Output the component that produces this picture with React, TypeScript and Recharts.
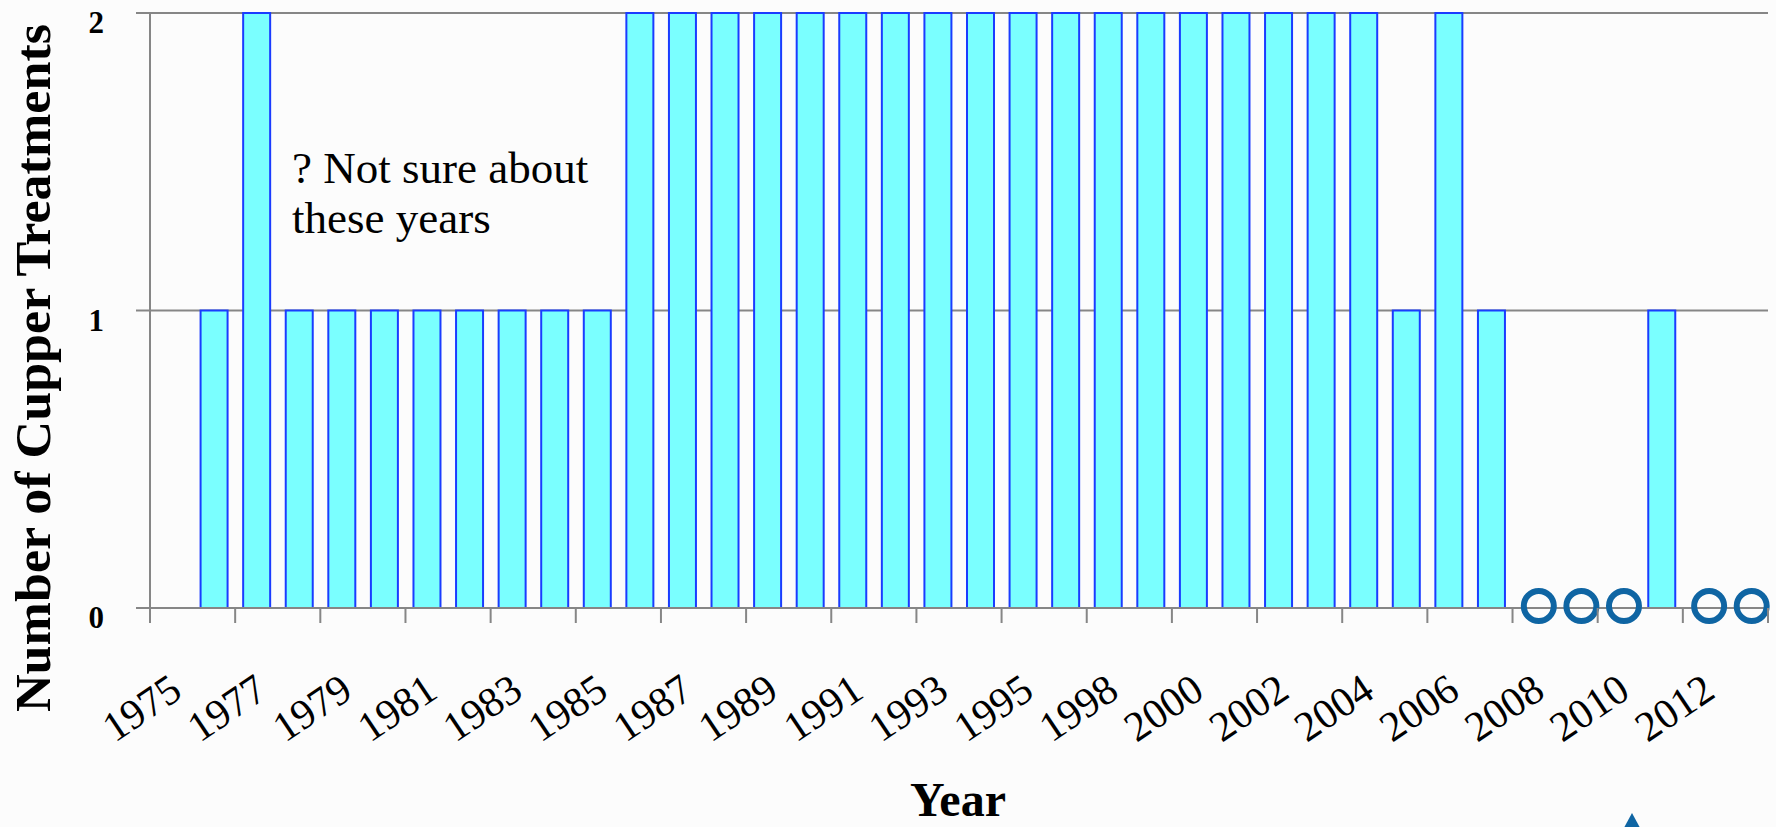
import React from 'react';
import { ComposedChart, Bar, Line, XAxis, YAxis, CartesianGrid } from 'recharts';

// ---- data ----
const years = [
  '1975', '1976', '1977', '1978', '1979', '1980', '1981', '1982', '1983', '1984',
  '1985', '1986', '1987', '1988', '1989', '1990', '1991', '1992', '1993', '1994',
  '1995', '1997', '1998', '1999', '2000', '2001', '2002', '2003', '2004', '2005',
  '2006', '2007', '2008', '2009', '2010', '2011', '2012', '2013',
];
const treatments: (number | null)[] = [
  null, 1, 2, 1, 1, 1, 1, 1, 1, 1,
  1, 2, 2, 2, 2, 2, 2, 2, 2, 2,
  2, 2, 2, 2, 2, 2, 2, 2, 2, 1,
  2, 1, null, null, null, 1, null, null,
];
const zeroYears: (number | null)[] = [
  null, null, null, null, null, null, null, null, null, null,
  null, null, null, null, null, null, null, null, null, null,
  null, null, null, null, null, null, null, null, null, null,
  null, null, 0, 0, 0, null, 0, 0,
];
const yTicks = [0, 1, 2];
const yTitle = 'Number of Cupper Treatments';
const xTitle = 'Year';
const noteLines = ['? Not sure about', 'these years'];

const data = years.map((y, i) => ({ year: y, treatments: treatments[i], zero: zeroYears[i] }));

// ---- layout ----
const W = 1776;
const H = 827;
const PLOT_LEFT = 150;
const PLOT_RIGHT = 1768;
const PLOT_TOP = 13;
const PLOT_BOTTOM = 608;
const BAND = (PLOT_RIGHT - PLOT_LEFT) / years.length;
const FONT = '"Liberation Serif", "DejaVu Serif", serif';
const GRID = '#868686';

const XTick = (props: any) => {
  const { x, index, payload } = props;
  const half = BAND / 2;
  const items: React.ReactNode[] = [];
  if (index % 2 === 0) {
    items.push(
      <line key="t" x1={x - half} x2={x - half} y1={PLOT_BOTTOM} y2={PLOT_BOTTOM + 15} stroke={GRID} strokeWidth={2} />
    );
    const ax = x + 13;
    const ay = 696;
    items.push(
      <text
        key="l"
        x={ax}
        y={ay}
        textAnchor="end"
        transform={`rotate(-34, ${ax}, ${ay})`}
        fontFamily={FONT}
        fontSize={42}
        fill="#000"
      >
        {payload.value}
      </text>
    );
  }
  if (index === years.length - 1) {
    items.push(
      <line key="e" x1={x + half} x2={x + half} y1={PLOT_BOTTOM} y2={PLOT_BOTTOM + 15} stroke={GRID} strokeWidth={2} />
    );
  }
  return <g>{items}</g>;
};

const YTick = (props: any) => {
  const { y, payload } = props;
  return (
    <text x={104} y={y + 20} textAnchor="end" fontFamily={FONT} fontWeight="bold" fontSize={31} fill="#000">
      {payload.value}
    </text>
  );
};

const ZeroDot = (props: any) => {
  const { cx, cy, payload, index } = props;
  if (cy == null || payload == null || payload.zero == null) return <g key={`z${index}`} />;
  return (
    <circle key={`z${index}`} cx={cx + 5} cy={cy - 2} r={15} fill="none" stroke="#0f65a3" strokeWidth={6} />
  );
};

export default function App() {
  return (
    <div style={{ position: 'absolute', left: 0, top: 0, width: W, height: H, background: '#fcfcfc', overflow: 'hidden' }}>
      <ComposedChart
        width={W}
        height={H}
        data={data}
        margin={{ top: PLOT_TOP, right: W - PLOT_RIGHT, bottom: 0, left: 0 }}
        barCategoryGap={0}
      >
        <CartesianGrid vertical={false} stroke={GRID} strokeWidth={2} />
        <XAxis
          dataKey="year"
          interval={0}
          height={H - PLOT_BOTTOM}
          tickLine={false}
          axisLine={{ stroke: GRID, strokeWidth: 2 }}
          tick={<XTick />}
        />
        <YAxis
          width={PLOT_LEFT}
          domain={[0, 2]}
          ticks={yTicks}
          interval={0}
          tickSize={14}
          tickLine={{ stroke: GRID, strokeWidth: 2 }}
          axisLine={{ stroke: GRID, strokeWidth: 2 }}
          tick={<YTick />}
        />
        <Bar
          dataKey="treatments"
          barSize={27}
          fill="#7affff"
          stroke="#1a3cff"
          strokeWidth={2}
          isAnimationActive={false}
        />
        <Line
          dataKey="zero"
          stroke="none"
          dot={ZeroDot}
          activeDot={false}
          isAnimationActive={false}
          legendType="none"
        />
      </ComposedChart>
      <svg
        width={W}
        height={H}
        style={{ position: 'absolute', left: 0, top: 0, pointerEvents: 'none' }}
      >
        <text
          x={50}
          y={368}
          transform="rotate(-90, 50, 368)"
          textAnchor="middle"
          fontFamily={FONT}
          fontWeight="bold"
          fontSize={50}
          textLength={688}
          lengthAdjust="spacingAndGlyphs"
          fill="#000"
        >
          {yTitle}
        </text>
        <text x={958} y={816} textAnchor="middle" fontFamily={FONT} fontWeight="bold" fontSize={48} fill="#000">
          {xTitle}
        </text>
        {noteLines.map((t, i) => (
          <text key={i} x={292} y={183 + i * 50} fontFamily={FONT} fontSize={45} fill="#000">
            {t}
          </text>
        ))}
        <polygon points="1632,813 1619,837 1645,837" fill="#0f65a3" />
      </svg>
    </div>
  );
}
